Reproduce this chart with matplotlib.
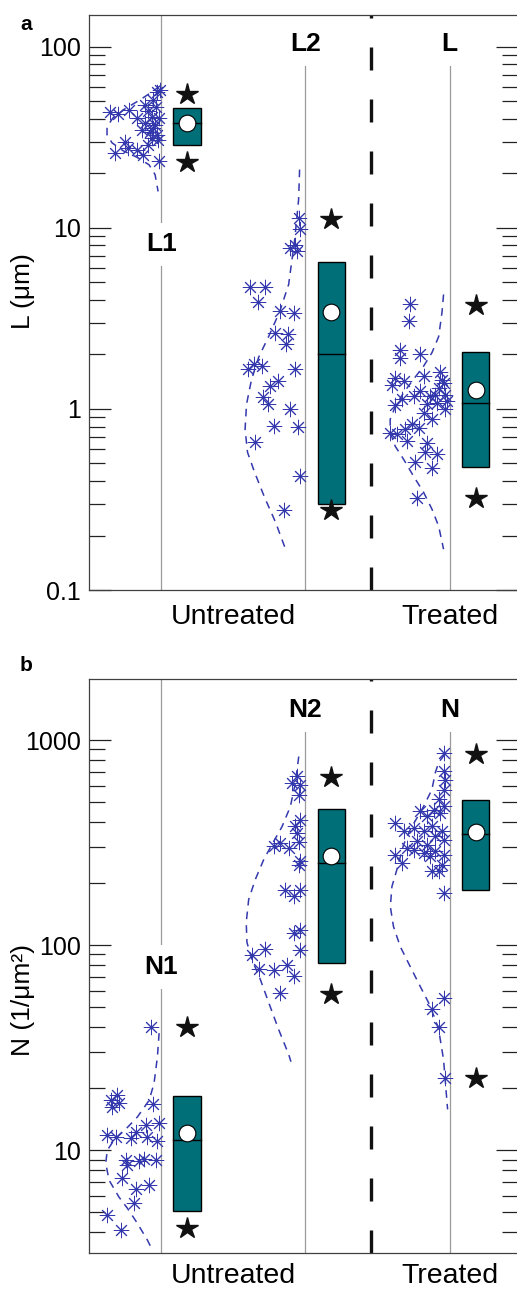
import numpy as np
import matplotlib.pyplot as plt
from matplotlib.ticker import FixedLocator, LogLocator, NullFormatter, FixedFormatter

plt.rcParams['font.family'] = ['Liberation Sans', 'DejaVu Sans']

# ---------------- panel a : L (um) ----------------
l_names = ['L1', 'L2', 'L']
l_q1 = [28.7, 0.298, 0.48]
l_median = [38.0, 2.02, 1.08]
l_q3 = [46.0, 6.51, 2.06]
l_mean = [38.0, 3.45, 1.28]
l_star_hi = [55.0, 11.2, 3.75]
l_star_lo = [23.2, 0.277, 0.321]

# scatter: horizontal offset from the group line, value
l1_dx = [-0.354, -0.299, -0.222, -0.167, -0.028, -0.007, -0.056, -0.090, -0.062, -0.111,
         -0.042, -0.076, -0.028, -0.021, -0.250, -0.319, -0.229, -0.167, -0.125, -0.090,
         -0.014, -0.132, -0.062, -0.035, -0.056, -0.014, -0.111]
l1_val = [43.8, 42.7, 44.9, 40.6, 56.5, 57.9, 51.0, 44.4, 41.1, 38.1,
          37.1, 34.0, 32.7, 30.7, 29.9, 26.0, 27.7, 27.0, 25.4, 28.8,
          23.5, 34.8, 31.5, 46.7, 35.7, 40.6, 47.9]
l2_dx = [-0.047, -0.035, -0.104, -0.069, -0.058, -0.382, -0.278, -0.329, -0.174, -0.081,
         -0.208, -0.121, -0.135, -0.399, -0.359, -0.301, -0.069, -0.190, -0.243, -0.297,
         -0.260, -0.104, -0.220, -0.051, -0.347, -0.035, -0.151]
l2_val = [11.4, 9.87, 7.76, 8.09, 7.43, 4.73, 4.73, 3.89, 3.47, 3.40,
          2.64, 2.61, 2.29, 1.67, 1.78, 1.72, 1.67, 1.43, 1.34, 1.17,
          1.06, 1.00, 0.805, 0.799, 0.657, 0.427, 0.277]
l3_dx = [-0.273, -0.285, -0.347, -0.347, -0.203, -0.377, -0.400, -0.319, -0.181, -0.069,
         -0.250, -0.203, -0.331, -0.377, -0.134, -0.076, -0.042, -0.099, -0.030, -0.157,
         -0.088, -0.030, -0.181, -0.122, -0.261, -0.215, -0.412, -0.365, -0.308, -0.296,
         -0.157, -0.169, -0.088, -0.238, -0.122, -0.226, -0.020, -0.055]
l3_val = [3.82, 3.05, 2.13, 1.92, 2.00, 1.49, 1.35, 1.43, 1.52, 1.60,
          1.18, 1.26, 1.13, 1.05, 1.18, 1.31, 1.40, 1.20, 1.20, 1.06,
          1.08, 0.995, 0.954, 0.876, 0.822, 0.789, 0.740, 0.724, 0.772, 0.665,
          0.652, 0.579, 0.562, 0.510, 0.474, 0.324, 1.10, 1.45]

# dashed distribution outlines (offset, value)
l1_curve_dx = [-0.007, -0.062, -0.146, -0.250, -0.333, -0.375, -0.375, -0.340, -0.264, -0.160,
               -0.083, -0.042, -0.021]
l1_curve_val = [60.9, 56.5, 51.0, 45.5, 40.6, 36.2, 32.7, 29.5, 26.7, 24.4, 22.3, 19.7, 15.9]
l2_curve_dx = [-0.040, -0.047, -0.074, -0.116, -0.178, -0.255, -0.324, -0.373, -0.408, -0.418,
               -0.401, -0.352, -0.283, -0.207, -0.130]
l2_curve_val = [21.0, 14.3, 8.62, 4.87, 3.45, 2.51, 1.93, 1.46, 1.06, 0.772,
                0.576, 0.447, 0.325, 0.237, 0.162]
l3_curve_dx = [-0.042, -0.053, -0.076, -0.122, -0.181, -0.250, -0.319, -0.377, -0.412, -0.412,
               -0.377, -0.319, -0.250, -0.181, -0.122, -0.076, -0.042]
l3_curve_val = [4.29, 3.41, 2.51, 2.05, 1.72, 1.46, 1.23, 1.03, 0.876, 0.743,
                0.622, 0.527, 0.425, 0.347, 0.279, 0.225, 0.168]

# ---------------- panel b : N (1/um^2) ----------------
n_names = ['N1', 'N2', 'N']
n_q1 = [5.05, 81.9, 186.5]
n_median = [11.2, 250, 350]
n_q3 = [18.4, 462, 512]
n_mean = [12.1, 273, 355]
n_star_hi = [39.7, 661, 859]
n_star_lo = [4.17, 57.8, 22.6]

n1_dx = [-0.067, -0.303, -0.349, -0.338, -0.292, -0.053, -0.373, -0.315, -0.210, -0.176,
         -0.106, -0.014, -0.095, -0.030, -0.245, -0.234, -0.153, -0.118, -0.037, -0.269,
         -0.176, -0.083, -0.188, -0.377, -0.280]
n1_val = [39.7, 18.5, 17.5, 16.3, 16.9, 16.8, 11.8, 11.6, 11.4, 12.3,
          13.2, 13.5, 11.6, 11.1, 8.94, 8.45, 8.87, 9.01, 8.94, 7.28,
          6.43, 6.75, 5.53, 4.82, 4.07]
n2_dx = [-0.058, -0.092, -0.035, -0.046, -0.035, -0.069, -0.058, -0.219, -0.174, -0.115,
         -0.046, -0.035, -0.046, -0.140, -0.081, -0.035, -0.081, -0.035, -0.035, -0.370,
         -0.278, -0.324, -0.220, -0.127, -0.081, -0.174]
n2_val = [666, 618, 607, 542, 409, 380, 353, 303, 315, 298,
          317, 256, 247, 185, 173, 185, 115, 119, 94.3, 89.9,
          95.8, 76.5, 75.9, 80.3, 70.4, 58.4]
n3_dx = [-0.042, -0.042, -0.030, -0.042, -0.076, -0.042, -0.203, -0.158, -0.111, -0.065,
         -0.377, -0.319, -0.250, -0.181, -0.123, -0.053, -0.099, -0.042, -0.227, -0.158,
         -0.297, -0.377, -0.250, -0.181, -0.099, -0.042, -0.331, -0.134, -0.053, -0.123,
         -0.076, -0.042, -0.042, -0.123, -0.076, -0.035]
n3_val = [866, 704, 642, 573, 513, 475, 449, 425, 458, 442,
          395, 359, 373, 359, 380, 359, 339, 327, 321, 309,
          298, 276, 292, 282, 287, 276, 252, 271, 247, 229,
          229, 180, 55.3, 49.0, 40.0, 22.6]

n1_curve_dx = [-0.014, -0.026, -0.049, -0.083, -0.165, -0.234, -0.326, -0.373, -0.384, -0.361,
               -0.292, -0.234, -0.165, -0.095, -0.060]
n1_curve_val = [37.2, 28.4, 21.2, 17.5, 14.5, 12.9, 11.2, 10.0, 8.64, 7.14,
                5.90, 5.21, 4.40, 3.64, 3.25]
n2_curve_dx = [-0.046, -0.069, -0.104, -0.162, -0.220, -0.289, -0.347, -0.393, -0.410, -0.405,
               -0.370, -0.312, -0.254, -0.185, -0.115, -0.100]
n2_curve_val = [831, 620, 474, 378, 320, 261, 209, 167, 129, 103,
                84.9, 67.9, 52.4, 38.7, 29.2, 27.0]
n3_curve_dx = [-0.035, -0.076, -0.099, -0.123, -0.181, -0.273, -0.319, -0.366, -0.400, -0.411,
               -0.389, -0.342, -0.273, -0.203, -0.146, -0.099, -0.076, -0.042, -0.014]
n3_curve_val = [850, 777, 694, 573, 474, 366, 309, 233, 193, 154,
                123, 98.3, 78.5, 62.7, 52.4, 43.3, 38.7, 27.6, 15.8]

x_labels = ['Untreated', 'Treated']

# ---------------- style ----------------
BLUE = '#3438ad'
TEAL = '#006f78'
GRAY = '#9a9a9a'
positions = [1, 2, 3]
box_off = 0.18
box_w = 0.19
sep_x = 2.454


def draw_panel(ax, names, pts, curves, q1, med, q3, mean, s_hi, s_lo,
               ylim, yticks, ylabel, ylabel_y, line_tops, name_y, first_name_y, xpad):
    ax.set_yscale('log')
    ax.set_xlim(0.5, 3.474)
    ax.set_ylim(*ylim)

    for i, x in enumerate(positions):
        top = ylim[1] if i == 0 else line_tops
        ax.plot([x, x], [ylim[0], top], color=GRAY, lw=0.9, zorder=1)
        cdx, cval = curves[i]
        ax.plot(x + np.array(cdx), cval, color=BLUE, lw=1.1, dashes=(5, 4), zorder=2)
        dx, val = pts[i]
        ax.plot(x + np.array(dx), val, ls='none', marker=(8, 2, 0), ms=11,
                mec=BLUE, mew=0.7, zorder=3)
        bx = x + box_off
        ax.bar(bx, q3[i] - q1[i], bottom=q1[i], width=box_w, color=TEAL,
               edgecolor='black', linewidth=1.0, zorder=4)
        ax.plot([bx - box_w / 2, bx + box_w / 2], [med[i], med[i]], color='black', lw=1.0, zorder=5)
        ax.plot(bx, mean[i], 'o', ms=12, mfc='white', mec='black', mew=0.8, zorder=6)
        ax.plot([bx, bx], [s_hi[i], s_lo[i]], ls='none', marker='*', ms=16,
                color='#111111', zorder=6)
        ny = first_name_y if i == 0 else name_y
        ax.text(x, ny, names[i], ha='center', va='center', fontsize=19, fontweight='bold',
                zorder=7, bbox=dict(fc='white', ec='none', pad=7))

    ax.axvline(sep_x, color='#111111', lw=2.4, dashes=(6.9, 8.7), zorder=1)

    ax.yaxis.set_major_locator(FixedLocator(yticks))
    ax.yaxis.set_major_formatter(FixedFormatter(['%g' % t for t in yticks]))
    ax.yaxis.set_minor_locator(LogLocator(base=10, subs=np.arange(2, 10)))
    ax.yaxis.set_minor_formatter(NullFormatter())
    ax.tick_params(axis='y', which='both', direction='in', left=True, right=True,
                   color='#222222', width=0.9, labelsize=18, pad=6)
    ax.tick_params(axis='y', which='major', length=16)
    ax.tick_params(axis='y', which='minor', length=11.5)

    ax.set_xticks([1.5, 3])
    ax.set_xticklabels(x_labels)
    ax.tick_params(axis='x', length=0, labelsize=20.5, pad=xpad)

    for s in ax.spines.values():
        s.set_color('#404040')
        s.set_linewidth(0.9)

    ax.set_ylabel(ylabel, fontsize=19)
    ax.yaxis.set_label_coords(-0.125, ylabel_y)


fig = plt.figure(figsize=(5.17, 12.91), dpi=100)
ax_l = fig.add_axes([89 / 517, 701 / 1291, 429 / 517, 575 / 1291])
ax_n = fig.add_axes([89 / 517, 38 / 1291, 429 / 517, 574 / 1291])

draw_panel(ax_l, l_names,
           [(l1_dx, l1_val), (l2_dx, l2_val), (l3_dx, l3_val)],
           [(l1_curve_dx, l1_curve_val), (l2_curve_dx, l2_curve_val), (l3_curve_dx, l3_curve_val)],
           l_q1, l_median, l_q3, l_mean, l_star_hi, l_star_lo,
           (0.1, 150), [0.1, 1, 10, 100], 'L (μm)', 0.52, 82.6, 104, 8.1, 10)

draw_panel(ax_n, n_names,
           [(n1_dx, n1_val), (n2_dx, n2_val), (n3_dx, n3_val)],
           [(n1_curve_dx, n1_curve_val), (n2_curve_dx, n2_curve_val), (n3_curve_dx, n3_curve_val)],
           n_q1, n_median, n_q3, n_mean, n_star_hi, n_star_lo,
           (3.15, 1985), [10, 100, 1000], 'N (1/μm²)', 0.44, 1100, 1400, 78, 7)

fig.text(20 / 517, 1 - 24 / 1291, 'a', fontsize=15, fontweight='bold', va='center')
fig.text(20 / 517, 1 - 666 / 1291, 'b', fontsize=15, fontweight='bold', va='center')

fig.savefig('out.png', dpi=100)
